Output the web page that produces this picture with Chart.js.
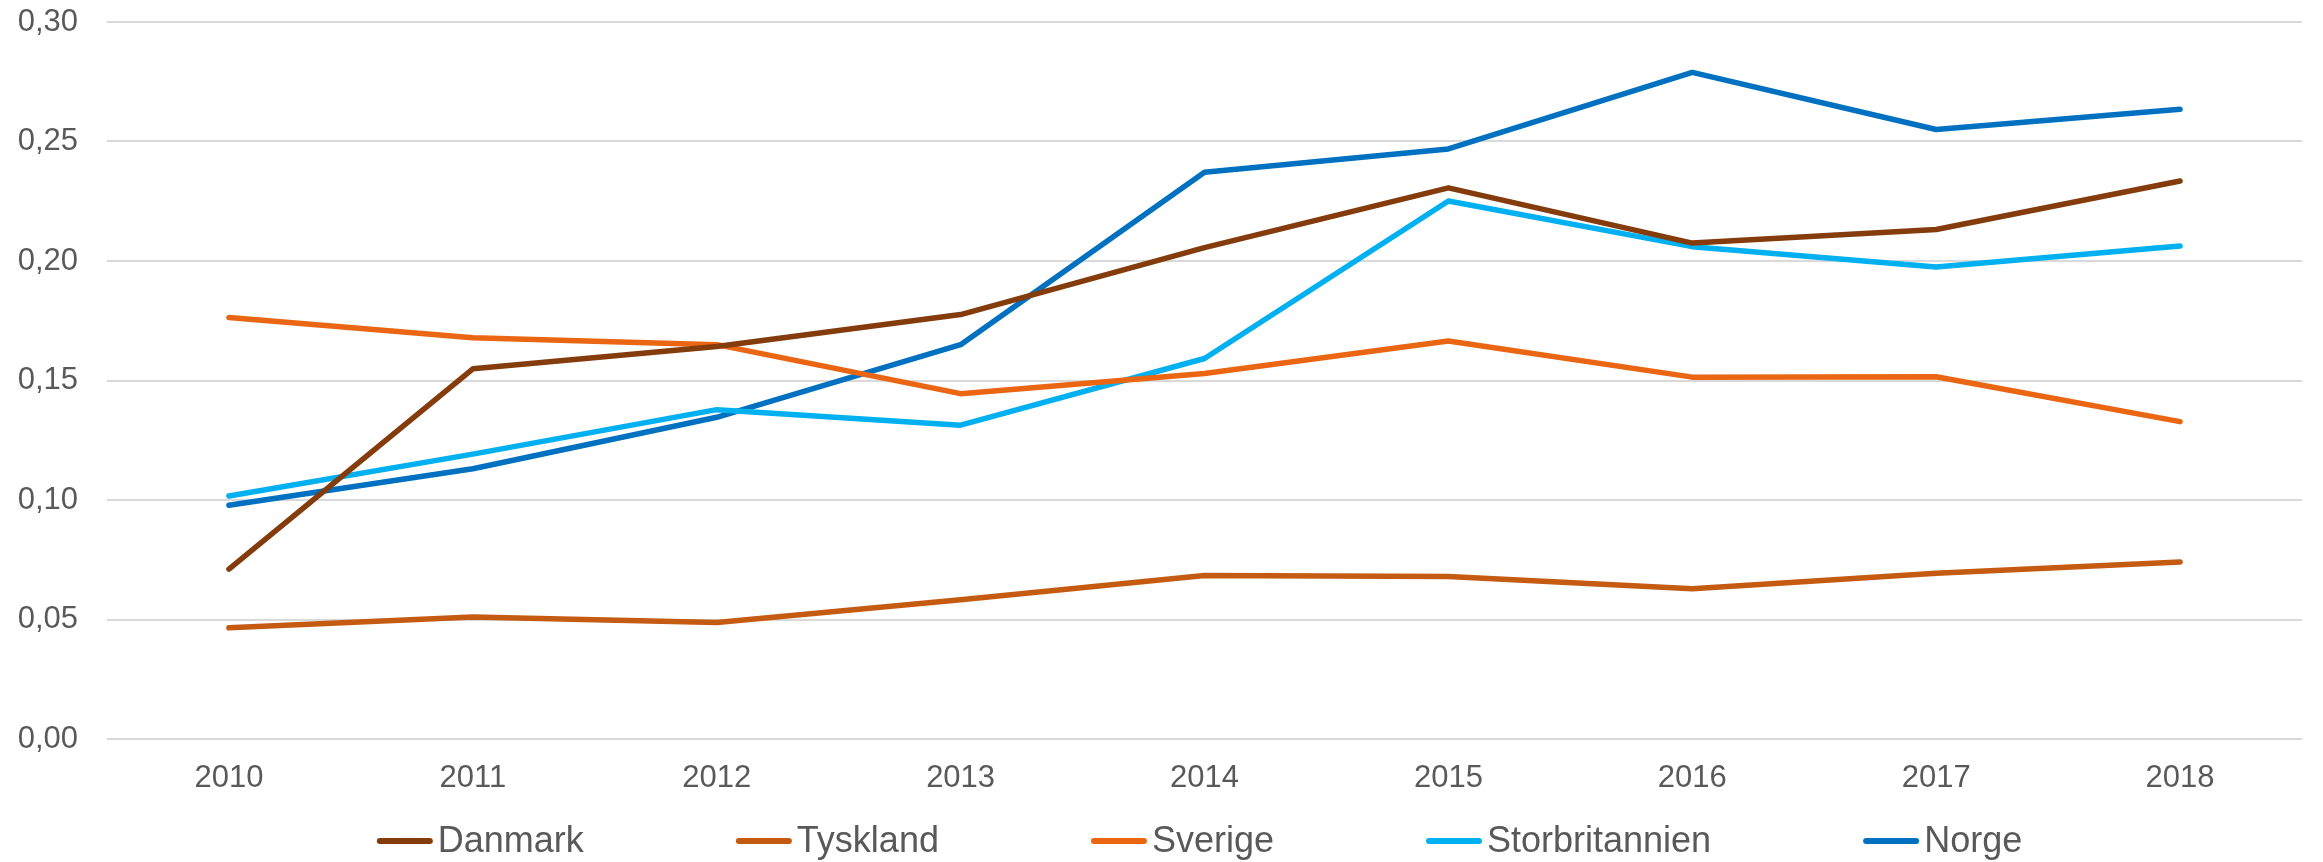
<!DOCTYPE html>
<html>
<head>
<meta charset="utf-8">
<script src="https://cdn.jsdelivr.net/npm/chart.js@4/dist/chart.umd.min.js"></script>
<style>
  html, body { margin: 0; padding: 0; background: #fff; }
</style>
</head>
<body>
<canvas id="myChart" width="2323" height="862"></canvas>
<script>
let years = ['2010', '2011', '2012', '2013', '2014', '2015', '2016', '2017', '2018'];

let danmark        = [0.0711, 0.1549, 0.1642, 0.1776, 0.2056, 0.2306, 0.2075, 0.2132, 0.2335];
let tyskland       = [0.0465, 0.0510, 0.0487, 0.0583, 0.0684, 0.0680, 0.0629, 0.0694, 0.0741];
let sverige        = [0.1764, 0.1679, 0.1650, 0.1445, 0.1529, 0.1665, 0.1514, 0.1516, 0.1328];
let storbritannien = [0.1017, 0.1192, 0.1378, 0.1313, 0.1592, 0.2251, 0.2060, 0.1975, 0.2063];
let norge          = [0.0978, 0.1131, 0.1346, 0.1650, 0.2371, 0.2469, 0.2789, 0.2550, 0.2635];

let yTicks = [0, 0.05, 0.10, 0.15, 0.20, 0.25, 0.30];

const FONT = 'Liberation Sans, Arial, sans-serif';

function makeLine(label, values, colour) {
    return {
        label: label,
        data: values,
        borderColor: colour,
        backgroundColor: colour,
        borderWidth: 5.5,
        borderCapStyle: 'round',
        borderJoinStyle: 'round',
        pointRadius: 0,
        tension: 0,
        fill: false
    };
}

// legend drawn by hand: short line + text right next to it, wide gaps between items
const lineLegend = {
    id: 'lineLegend',
    afterDraw(chart) {
        const c = chart.ctx;
        const area = chart.chartArea;
        const sets = chart.data.datasets;
        const lineLen = 56, textGap = 5, itemGap = 152, y = 841;
        c.save();
        c.font = '36px ' + FONT;
        c.textBaseline = 'middle';
        c.textAlign = 'left';
        let widths = sets.map(ds => c.measureText(ds.label).width);
        let total = widths.reduce((a, b) => a + b, 0) + sets.length * (lineLen + textGap) + (sets.length - 1) * itemGap;
        let x = (area.left + area.right) / 2 - 5 - total / 2;
        sets.forEach((ds, i) => {
            c.strokeStyle = ds.borderColor;
            c.lineWidth = 6;
            c.lineCap = 'round';
            c.beginPath();
            c.moveTo(x + 3, y);
            c.lineTo(x + lineLen - 3, y);
            c.stroke();
            c.fillStyle = '#595959';
            c.fillText(ds.label, x + lineLen + textGap, y + 1);
            x += lineLen + textGap + widths[i] + itemGap;
        });
        c.restore();
    }
};

let ctx = document.getElementById('myChart').getContext('2d');

let chart = new Chart(ctx, {
    type: 'line',
    data: {
        labels: years,
        datasets: [
            makeLine('Danmark', danmark, '#843C0C'),
            makeLine('Tyskland', tyskland, '#C55A11'),
            makeLine('Sverige', sverige, '#EA6613'),
            makeLine('Storbritannien', storbritannien, '#00B0F0'),
            makeLine('Norge', norge, '#0070C0')
        ]
    },
    plugins: [lineLegend],
    options: {
        responsive: false,
        devicePixelRatio: 1,
        animation: false,
        layout: {
            padding: { left: 17, right: 21, top: 22, bottom: 68 }
        },
        plugins: {
            tooltip: { enabled: false },
            legend: { display: false }
        },
        scales: {
            x: {
                offset: true,
                grid: { display: false },
                border: { display: false },
                afterFit: function (s) { s.paddingLeft = 0; s.paddingRight = 0; s.height = 55; },
                ticks: {
                    color: '#595959',
                    font: { family: FONT, size: 31 },
                    padding: 13,
                    maxRotation: 0
                }
            },
            y: {
                min: 0,
                max: 0.3,
                afterBuildTicks: function (axis) {
                    axis.ticks = yTicks.map(function (v) { return { value: v }; });
                },
                afterFit: function (s) { s.paddingTop = 0; s.paddingBottom = 0; s.width = 90; },
                grid: {
                    color: '#D9D9D9',
                    lineWidth: 2,
                    drawTicks: false
                },
                border: { display: false },
                ticks: {
                    color: '#595959',
                    font: { family: FONT, size: 31 },
                    padding: 29,
                    callback: function (v) { return v.toFixed(2).replace('.', ','); }
                }
            }
        }
    }
});
</script>
</body>
</html>
